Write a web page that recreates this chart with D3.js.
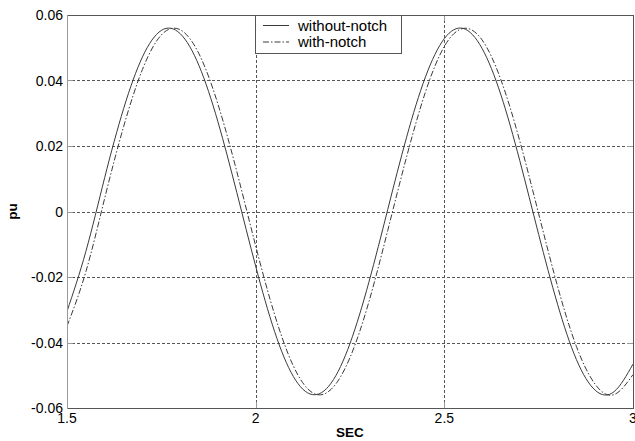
<!DOCTYPE html>
<html>
<head>
<meta charset="utf-8">
<script src="https://cdn.jsdelivr.net/npm/d3@7/dist/d3.min.js"></script>
<style>
  html, body { margin: 0; padding: 0; background: #fff; }
  svg { display: block; }
  text { font-family: Arial, "Liberation Sans", sans-serif; fill: #000; }
</style>
</head>
<body>
<svg id="chart" width="635" height="441"></svg>
<script>
// ---- data ----
const timeSec = [1.50, 1.55, 1.60, 1.65, 1.70, 1.75, 1.80, 1.85, 1.90, 1.95,
                 2.00, 2.05, 2.10, 2.15, 2.20, 2.25, 2.30, 2.35, 2.40, 2.45,
                 2.50, 2.55, 2.60, 2.65, 2.70, 2.75, 2.80, 2.85, 2.90, 2.95, 3.00];
const withoutNotch = [-0.0305, -0.0122, 0.0104, 0.0314, 0.0472, 0.0553, 0.0543, 0.0445, 0.0274, 0.0058,
                      -0.0167, -0.0366, -0.0504, -0.0559, -0.0524, -0.0403, -0.0216, 0.0006, 0.0227, 0.0411,
                      0.0528, 0.0559, 0.0498, 0.0356, 0.0155, -0.0070, -0.0283, -0.0452, -0.0546, -0.0550, -0.0466];
const withNotch = [-0.0350, -0.0184, 0.0041, 0.0259, 0.0434, 0.0539, 0.0555, 0.0481, 0.0328, 0.0122,
                   -0.0105, -0.0314, -0.0472, -0.0553, -0.0543, -0.0446, -0.0276, -0.0058, 0.0167, 0.0365,
                   0.0504, 0.0559, 0.0524, 0.0402, 0.0215, -0.0007, -0.0228, -0.0412, -0.0528, -0.0559, -0.0498];
const seriesNames = ["without-notch", "with-notch"];
const xTicks = [1.5, 2, 2.5, 3];
const xTickLabels = ["1.5", "2", "2.5", "3"];
const yTicks = [-0.06, -0.04, -0.02, 0, 0.02, 0.04, 0.06];
const yTickLabels = ["-0.06", "-0.04", "-0.02", "0", "0.02", "0.04", "0.06"];
const xLabel = "SEC";
const yLabel = "pu";

// ---- layout ----
const L = 67, R = 633, T = 15, B = 408;
const svg = d3.select("#chart");
const x = d3.scaleLinear().domain([1.5, 3]).range([L, R]);
const y = d3.scaleLinear().domain([-0.06, 0.06]).range([B, T]);

svg.append("rect").attr("x", 0).attr("y", 0).attr("width", 635).attr("height", 441).attr("fill", "#fff");

svg.append("defs").append("clipPath").attr("id", "plotclip")
  .append("rect").attr("x", L).attr("y", T).attr("width", R - L).attr("height", B - T);

// grid lines
const grid = svg.append("g").attr("stroke", "#555").attr("stroke-width", 1)
  .attr("stroke-dasharray", "3,2").attr("shape-rendering", "crispEdges");
grid.selectAll(".gx").data(xTicks.slice(1, -1)).enter().append("line")
  .attr("x1", d => Math.round(x(d)) + 0.5).attr("x2", d => Math.round(x(d)) + 0.5)
  .attr("y1", B).attr("y2", T);
grid.selectAll(".gy").data(yTicks.slice(1, -1)).enter().append("line")
  .attr("y1", d => Math.round(y(d)) + 0.5).attr("y2", d => Math.round(y(d)) + 0.5)
  .attr("x1", L).attr("x2", R);

// inward ticks
const ticks = svg.append("g").attr("stroke", "#999").attr("stroke-width", 1).attr("shape-rendering", "crispEdges");
yTicks.forEach(v => {
  const yy = Math.round(y(v)) + 0.5;
  ticks.append("line").attr("x1", L).attr("x2", L + 6).attr("y1", yy).attr("y2", yy);
  ticks.append("line").attr("x1", R - 6).attr("x2", R).attr("y1", yy).attr("y2", yy);
});
xTicks.forEach(v => {
  const xx = Math.round(x(v)) + 0.5;
  ticks.append("line").attr("x1", xx).attr("x2", xx).attr("y1", B).attr("y2", B - 6);
  ticks.append("line").attr("x1", xx).attr("x2", xx).attr("y1", T).attr("y2", T + 6);
});

// curves
const pts1 = timeSec.map((t, i) => [t, withoutNotch[i]]);
const pts2 = timeSec.map((t, i) => [t, withNotch[i]]);
const line = d3.line().x(d => x(d[0])).y(d => y(d[1])).curve(d3.curveNatural);
const curves = svg.append("g").attr("clip-path", "url(#plotclip)");
curves.append("path").attr("d", line(pts1)).attr("fill", "none")
  .attr("stroke", "#3a3a3a").attr("stroke-width", 1);
curves.append("path").attr("d", line(pts2)).attr("fill", "none")
  .attr("stroke", "#3a3a3a").attr("stroke-width", 1).attr("stroke-dasharray", "6,2,1.5,2");

// plot box
const box = svg.append("g").attr("fill", "none").attr("stroke-width", 1).attr("shape-rendering", "crispEdges");
box.append("line").attr("x1", L).attr("x2", R).attr("y1", T + 0.5).attr("y2", T + 0.5).attr("stroke", "#555");
box.append("line").attr("x1", L).attr("x2", R + 1).attr("y1", B + 0.5).attr("y2", B + 0.5).attr("stroke", "#555");
box.append("line").attr("x1", R + 0.5).attr("x2", R + 0.5).attr("y1", T).attr("y2", B + 1).attr("stroke", "#555");
box.append("line").attr("x1", L + 0.5).attr("x2", L + 0.5).attr("y1", T).attr("y2", B + 1).attr("stroke", "#999");

// tick labels
svg.append("g").selectAll("text").data(yTicks).enter().append("text")
  .attr("x", L - 4).attr("y", d => y(d)).attr("dy", "0.36em")
  .attr("text-anchor", "end").attr("font-size", "14px")
  .text((d, i) => yTickLabels[i]);
svg.append("g").selectAll("text").data(xTicks).enter().append("text")
  .attr("x", d => x(d)).attr("y", 423)
  .attr("text-anchor", "middle").attr("font-size", "14px")
  .text((d, i) => xTickLabels[i]);

// axis labels
svg.append("text").attr("x", (L + R) / 2).attr("y", 437)
  .attr("text-anchor", "middle").attr("font-size", "13.5px").attr("font-weight", "bold")
  .text(xLabel);
svg.append("text").attr("transform", `translate(17,${(T + B) / 2}) rotate(-90)`)
  .attr("text-anchor", "middle").attr("font-size", "13.5px").attr("font-weight", "bold")
  .text(yLabel);

// legend
const lg = svg.append("g");
lg.append("rect").attr("x", 255.5).attr("y", T + 0.5).attr("width", 146).attr("height", 38)
  .attr("fill", "#fff").attr("stroke", "#555").attr("shape-rendering", "crispEdges");
const rows = [{ name: seriesNames[0], dash: null, yy: 25.5 }, { name: seriesNames[1], dash: "6,2,1.5,2", yy: 42 }];
rows.forEach(r => {
  const ln = lg.append("line").attr("x1", 263).attr("x2", 289).attr("y1", r.yy).attr("y2", r.yy)
    .attr("stroke", "#3a3a3a").attr("stroke-width", 1);
  if (r.dash) ln.attr("stroke-dasharray", r.dash);
  lg.append("text").attr("x", 298).attr("y", r.yy).attr("dy", "0.36em")
    .attr("font-size", "15px").text(r.name);
});
</script>
</body>
</html>
